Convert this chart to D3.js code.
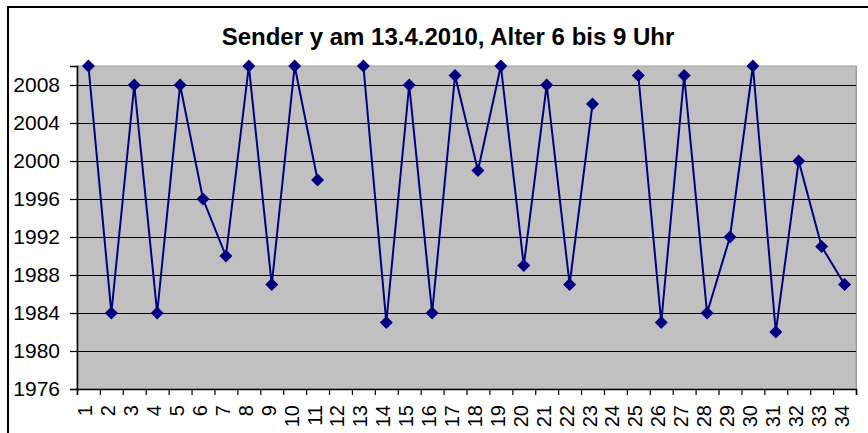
<!DOCTYPE html>
<html><head><meta charset="utf-8">
<script src="https://cdn.jsdelivr.net/npm/d3@7/dist/d3.min.js"></script>
<style>body{margin:0;background:#fff}svg{display:block}text{font-family:"Liberation Sans",Arial,sans-serif}</style>
</head><body>
<svg id="c" width="868" height="433"></svg>
<script>
const title = "Sender y am 13.4.2010, Alter 6 bis 9 Uhr";
const categories = d3.range(1, 35).map(String);
const values = [2010,1984,2008,1984,2008,1996,1990,2010,1987,2010,1998,null,2010,1983,2008,1984,2009,1999,2010,1989,2008,1987,2006,null,2009,1983,2009,1984,1992,2010,1982,2000,1991,1987];
const yTicks = [1976,1980,1984,1988,1992,1996,2000,2004,2008];

const svg = d3.select("#c");
const L = 77, R = 856, T = 66, B = 389;

// outer chart border
svg.append("rect").attr("x", 8).attr("y", 7).attr("width", 880).attr("height", 460)
  .attr("fill", "#fff").attr("stroke", "#000").attr("stroke-width", 2);

const x = d3.scaleBand().domain(categories).range([L, R]).padding(0);
const xl = d3.scaleLinear().domain([0, categories.length]).range([L, R]);
const y = d3.scaleLinear().domain([1976, 2010]).range([B, T]);

// plot area
svg.append("rect").attr("x", L + 1).attr("y", T).attr("width", R - L).attr("height", B - T)
  .attr("fill", "#909090");
svg.append("rect").attr("x", L).attr("y", T).attr("width", R - L).attr("height", B - T)
  .attr("fill", "#c0c0c0").attr("stroke", "#a0a0a0").attr("stroke-width", 1);

// gridlines
svg.append("g").selectAll("line").data(yTicks.slice(1)).join("line")
  .attr("x1", L).attr("x2", R).attr("y1", d => Math.round(y(d)) + 0.5).attr("y2", d => Math.round(y(d)) + 0.5)
  .attr("stroke", "#000").attr("stroke-width", 1.2);

// y axis
const ya = svg.append("g").attr("transform", `translate(${L},0)`)
  .call(d3.axisLeft(y).tickValues(yTicks).tickSize(7).tickPadding(10).tickFormat(d3.format("d")));
ya.select(".domain").attr("stroke", "#000").attr("stroke-width", 1.5);
ya.selectAll(".tick line").attr("stroke", "#000").attr("stroke-width", 1.2);
ya.selectAll("text").attr("font-size", 21).attr("fill", "#000")
  .attr("font-family", '"Liberation Sans",Arial,sans-serif');

// x axis ticks
const xa = svg.append("g").attr("transform", `translate(0,${B})`)
  .call(d3.axisBottom(xl).tickValues(d3.range(0, categories.length + 1)).tickSize(6).tickFormat(""));
xa.select(".domain").attr("stroke", "#000").attr("stroke-width", 1.5);
xa.selectAll(".tick line").attr("stroke", "#000").attr("stroke-width", 1.2);

// x labels
svg.append("g").selectAll("text").data(categories).join("text")
  .attr("transform", d => `translate(${x(d) + x.bandwidth() / 2 + 4},405) rotate(-90)`)
  .attr("text-anchor", "end").attr("font-size", 20).attr("fill", "#000")
  .text(d => d);

// line
const pts = categories.map((c, i) => ({c, v: values[i]}));
const line = d3.line().defined(d => d.v !== null)
  .x(d => x(d.c) + x.bandwidth() / 2).y(d => y(d.v));
svg.append("path").datum(pts).attr("d", line)
  .attr("fill", "none").attr("stroke", "#000080").attr("stroke-width", 2);

// markers
const s = 6.5;
svg.append("g").selectAll("path").data(pts.filter(d => d.v !== null)).join("path")
  .attr("transform", d => `translate(${x(d.c) + x.bandwidth() / 2},${y(d.v)})`)
  .attr("d", `M0,${-s}L${s},0L0,${s}L${-s},0Z`).attr("fill", "#000080");

// title
svg.append("text").attr("x", 448).attr("y", 45).attr("text-anchor", "middle")
  .attr("font-size", 24).attr("font-weight", "bold").attr("fill", "#000").text(title);
</script>
</body></html>
